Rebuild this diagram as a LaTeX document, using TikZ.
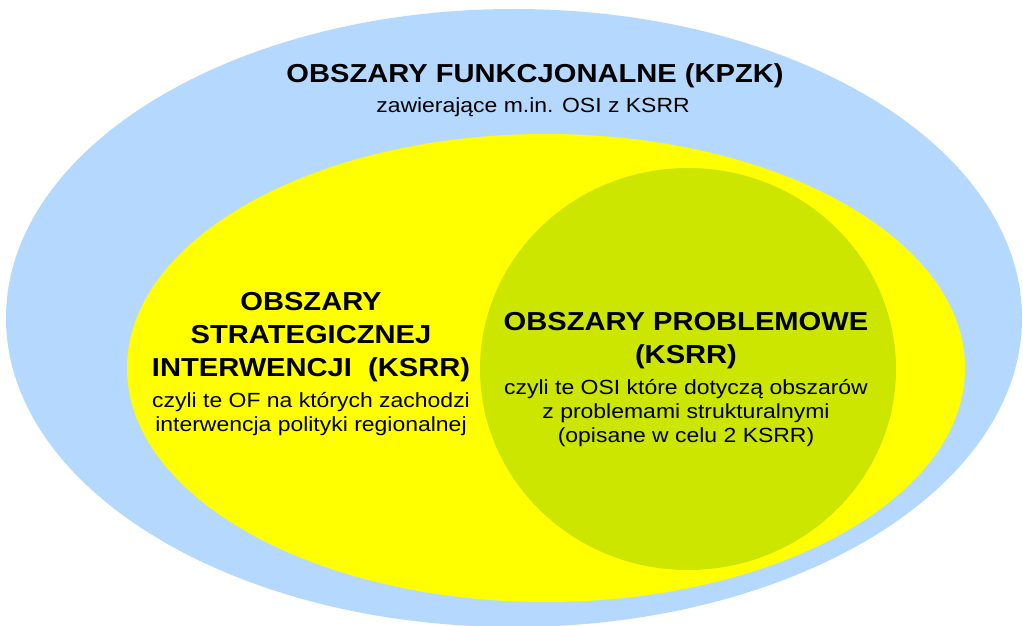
\documentclass[tikz,border=0pt]{standalone}
\usepackage{fontspec}
\setmainfont[FakeStretch=1.12]{Liberation Sans}
\usetikzlibrary{positioning}

\definecolor{ofblue}{RGB}{181,217,254}
\definecolor{osiyellow}{RGB}{255,255,0}
\definecolor{opgreen}{RGB}{205,230,0}

\begin{document}
\begin{tikzpicture}[x = 1pt, y = -1pt,
	tytul/.style = {inner sep = 0pt, align = center, anchor = base, font = \fontsize{26}{33}\selectfont\bfseries},
	opis/.style = {inner sep = 0pt, align = center, anchor = base, font = \fontsize{20.5}{24}\selectfont}]
							\useasboundingbox [fill = white] (0, 0) rectangle (1023, 626);
							\fill [ofblue] (514, 318) ellipse [x radius = 508, y radius = 309];
							\fill [osiyellow] (546, 368) ellipse [x radius = 419, y radius = 234];
							\fill [opgreen] (688, 369) ellipse [x radius = 208, y radius = 201];
							\node [tytul] (ofTytul) at (535, 83) {OBSZARY FUNKCJONALNE (KPZK)};
							\node [opis] (ofOpis) at (533, 113) {zawierające m.in. OSI z KSRR};
							\node [tytul] (osiTytul) at (311, 376) {OBSZARY\\STRATEGICZNEJ\\INTERWENCJI~~(KSRR)};
							\node [opis] (osiOpis) at (311, 431) {czyli te OF na których zachodzi\\interwencja polityki regionalnej};
							\node [tytul] (opTytul) at (686, 363) {OBSZARY PROBLEMOWE\\(KSRR)};
							\node [opis] (opOpis) at (686, 442) {czyli te OSI które dotyczą obszarów\\z problemami strukturalnymi\\(opisane w celu 2 KSRR)};
						\end{tikzpicture}
\end{document}
